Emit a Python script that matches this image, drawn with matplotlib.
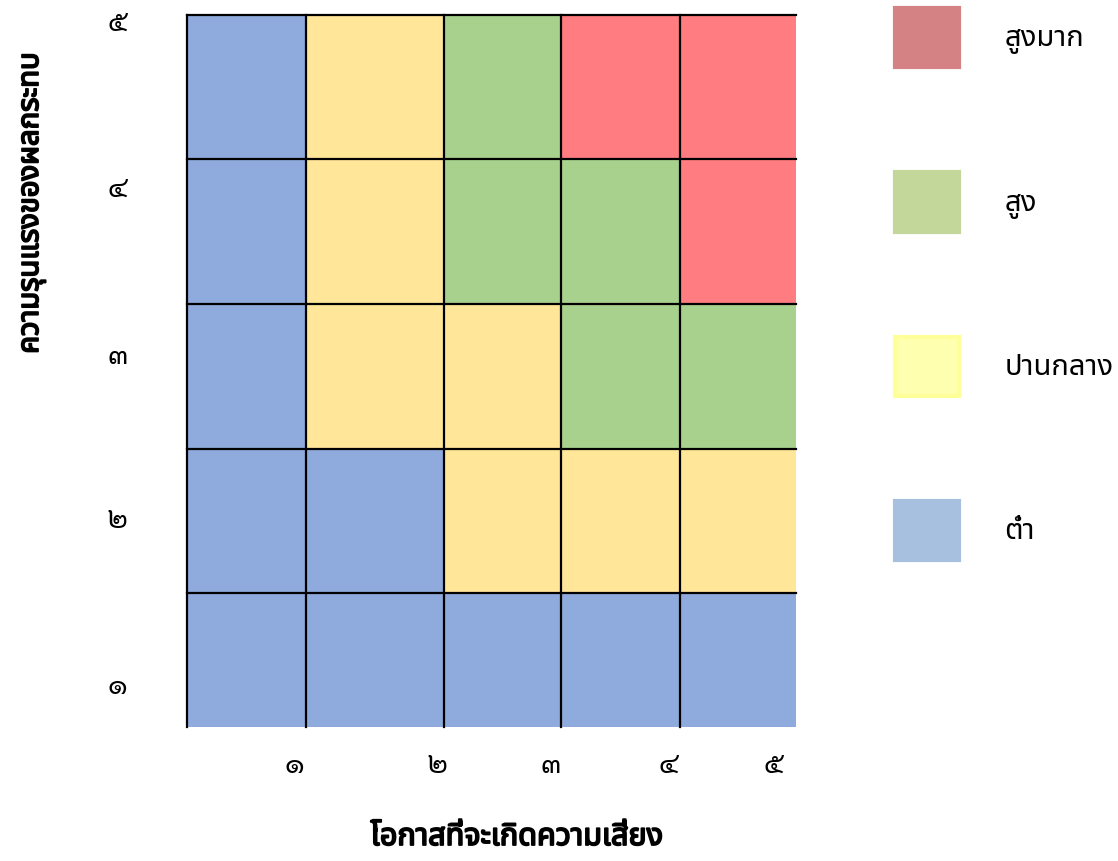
import matplotlib
matplotlib.use('Agg')
import numpy as np
import matplotlib.pyplot as plt
import matplotlib.patheffects as pe
from matplotlib.colors import ListedColormap
from matplotlib.patches import Patch

# ข้อมูลตารางความเสี่ยง
likelihood_labels = ['๑', '๒', '๓', '๔', '๕']   # โอกาส (แกน x)
impact_labels = ['๑', '๒', '๓', '๔', '๕']       # ความรุนแรง (แกน y)
# ระดับ 1=ต่ำ 2=ปานกลาง 3=สูง 4=สูงมาก ; แถวจากความรุนแรง ๑ (ล่าง) ถึง ๕ (บน)
risk = [[1, 1, 1, 1, 1],
        [1, 1, 2, 2, 2],
        [1, 2, 2, 3, 3],
        [1, 2, 3, 3, 4],
        [1, 2, 3, 4, 4]]
level_names = ['ต่ำ', 'ปานกลาง', 'สูง', 'สูงมาก']
cell_colors = ['#8faadc', '#ffe699', '#a9d18e', '#ff7c80']
legend_colors = ['#a8c0df', '#ffffb0', '#c4d79b', '#d48283']

# ขนาดช่อง (ความกว้าง/สูงไม่เท่ากันตามภาพต้นฉบับ)
col_w = [119, 138, 117, 119, 116]
row_h = [134, 144, 145, 145, 144]
xe = np.concatenate([[0], np.cumsum(col_w)])
ye = np.concatenate([[0], np.cumsum(row_h)])
xtick_pos = [107, 250, 364, 481, 586]
ytick_pos = [44, 210, 374, 541, 707]

W, H = 1118, 861
fig = plt.figure(figsize=(W / 100, H / 100), dpi=100)
ax = fig.add_axes([187 / W, 1 - 727 / H, xe[-1] / W, ye[-1] / H])

ax.pcolormesh(xe, ye, np.array(risk), cmap=ListedColormap(cell_colors), vmin=0.5, vmax=4.5)
for x in xe[:-1]:
    ax.axvline(x, color='black', lw=1.6, clip_on=False)
for y in ye[1:]:
    ax.axhline(y, color='black', lw=1.6, clip_on=False)
ax.set_xlim(0, xe[-1])
ax.set_ylim(0, ye[-1])
for s in ax.spines.values():
    s.set_visible(False)

tick_font = ['Sarabun', 'DejaVu Sans']
ax.set_xticks(xtick_pos)
ax.set_xticklabels(likelihood_labels, family=tick_font, fontsize=21)
ax.set_yticks(ytick_pos)
ax.set_yticklabels(impact_labels, family=tick_font, fontsize=21)
ax.tick_params(axis='x', length=0, pad=17)
ax.tick_params(axis='y', length=0, pad=43)

label_font = ['Noto Sans Thai', 'DejaVu Sans']
bold = [pe.withStroke(linewidth=1.3, foreground='black')]
ax.set_xlabel('โอกาสที่จะเกิดความเสี่ยง', family=label_font, fontsize=22, path_effects=bold)
ax.xaxis.set_label_coords((517 - 187) / 609, -(822 - 727) / 712)
ax.set_ylabel('ความรุนแรงของผลกระทบ', family=label_font, fontsize=21, path_effects=bold)
ax.yaxis.set_label_coords((45 - 187) / 609, (727 - 203) / 712)

handles = []
for i in range(3, -1, -1):
    ec = '#ffff99' if i == 1 else legend_colors[i]
    handles.append(Patch(facecolor=legend_colors[i], edgecolor=ec, lw=3))
fig.legend(handles, level_names[::-1], loc='upper left', bbox_to_anchor=(895 / W, 1 - 8 / H),
           frameon=False, prop={'family': label_font, 'size': 21},
           handlelength=2.2, handleheight=2.75, handletextpad=1.55, labelspacing=3.6,
           borderaxespad=0, borderpad=0)

fig.savefig('out.png')
